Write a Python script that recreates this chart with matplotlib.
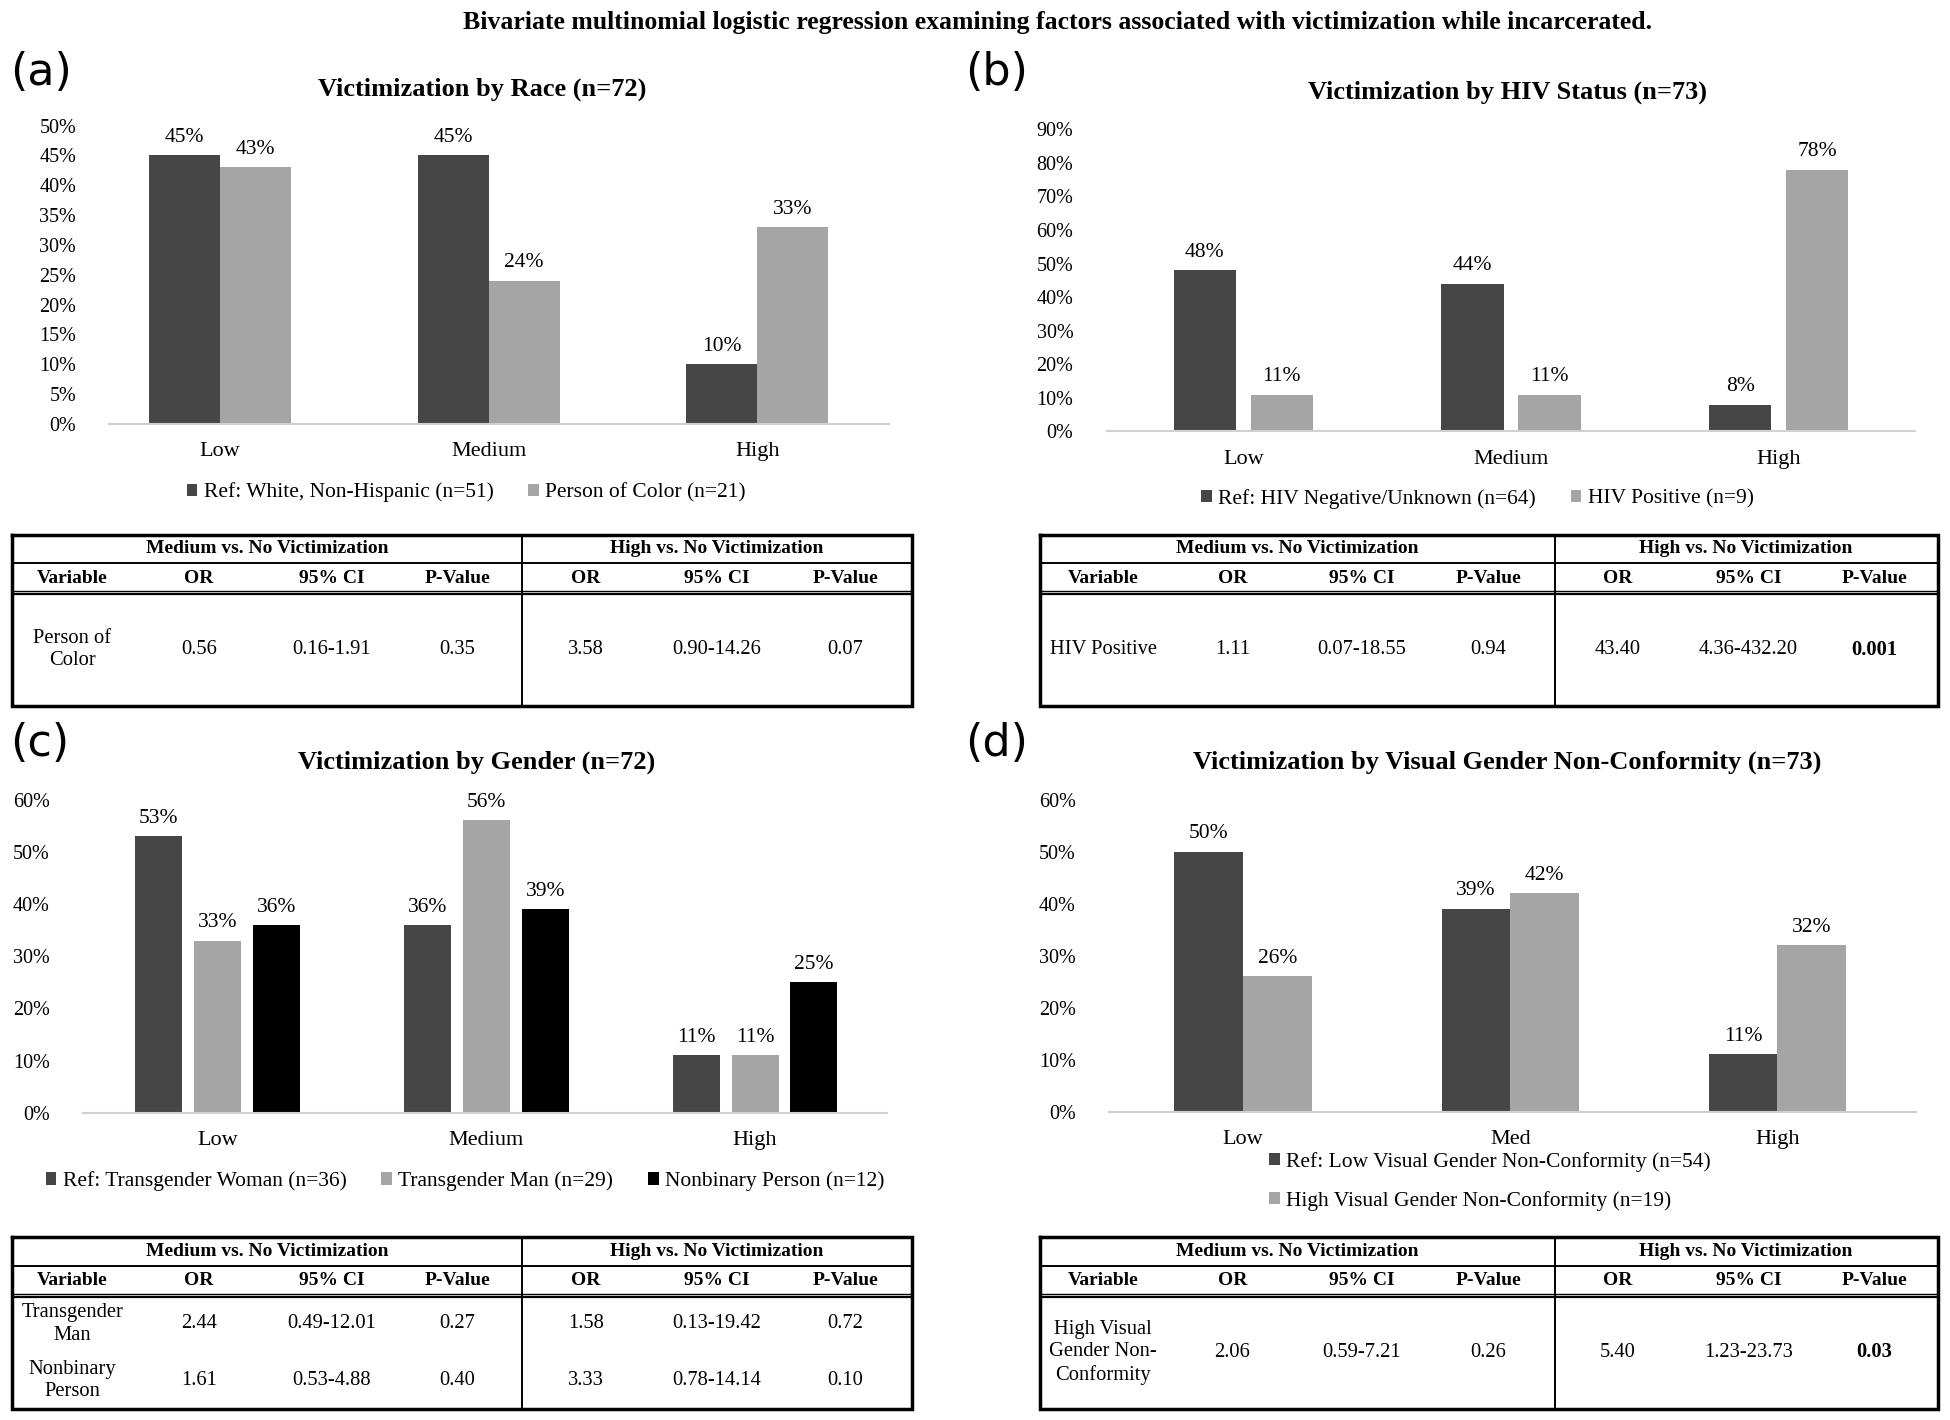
import numpy as np
import matplotlib.pyplot as plt
from matplotlib.ticker import MultipleLocator, PercentFormatter

plt.rcParams['font.family'] = ['Liberation Serif', 'DejaVu Serif']

# layout was measured on a 1568 px wide preview
PW, PH = 1568.0, 1142.0

levels = ['Low', 'Medium', 'High']
levels_d = ['Low', 'Med', 'High']

race_groups = ['Ref: White, Non-Hispanic (n=51)', 'Person of Color (n=21)']
race_vals = [[45, 45, 10], [43, 24, 33]]

hiv_groups = ['Ref: HIV Negative/Unknown (n=64)', 'HIV Positive (n=9)']
hiv_vals = [[48, 44, 8], [11, 11, 78]]

gender_groups = ['Ref: Transgender Woman (n=36)', 'Transgender Man (n=29)',
                 'Nonbinary Person (n=12)']
gender_vals = [[53, 36, 11], [33, 56, 11], [36, 39, 25]]

vgnc_groups = ['Ref: Low Visual Gender Non-Conformity (n=54)',
               'High Visual Gender Non-Conformity (n=19)']
vgnc_vals = [[50, 39, 11], [26, 42, 32]]

tab_top = ['Medium vs. No Victimization', 'High vs. No Victimization']
tab_head = ['Variable', 'OR', '95% CI', 'P-Value', 'OR', '95% CI', 'P-Value']
race_rows = [['Person of\nColor', '0.56', '0.16-1.91', '0.35', '3.58', '0.90-14.26', '0.07']]
hiv_rows = [['HIV Positive', '1.11', '0.07-18.55', '0.94', '43.40', '4.36-432.20', '0.001']]
gender_rows = [['Transgender\nMan', '2.44', '0.49-12.01', '0.27', '1.58', '0.13-19.42', '0.72'],
               ['Nonbinary\nPerson', '1.61', '0.53-4.88', '0.40', '3.33', '0.78-14.14', '0.10']]
vgnc_rows = [['High Visual\nGender Non-\nConformity', '2.06', '0.59-7.21', '0.26',
              '5.40', '1.23-23.73', '0.03']]

DARK = '#464646'
LIGHT = '#a5a5a5'
BLACK = '#000000'

fig = plt.figure(figsize=(19.5, 14.2), dpi=100)


def rect(l, t, r, b):
    return [l / PW, 1 - b / PH, (r - l) / PW, (b - t) / PH]


def fx(x):
    return x / PW


def fy(y):
    return 1 - y / PH


def bar_panel(box, cats, groups, vals, colors, width, step, ymax, ystep,
              title, tpos, leg_pos, ncol, xlim):
    ax = fig.add_axes(rect(*box))
    x = np.arange(len(cats))
    n = len(groups)
    for i in range(n):
        off = (i - (n - 1) / 2) * step
        v = np.array(vals[i]) / 100
        ax.bar(x + off, v, width, color=colors[i], label=groups[i])
        for xx, vv in zip(x + off, vals[i]):
            ax.annotate(f'{vv}%', (xx, vv / 100), xytext=(0, 6),
                        textcoords='offset points', ha='center', va='bottom',
                        fontsize=15.5, annotation_clip=False)
    ax.set_xlim(*xlim)
    ax.set_ylim(0, ymax)
    ax.yaxis.set_major_locator(MultipleLocator(ystep))
    ax.yaxis.set_major_formatter(PercentFormatter(1, decimals=0))
    ax.set_xticks(x)
    ax.set_xticklabels(cats, fontsize=16)
    for s in ['top', 'right', 'left']:
        ax.spines[s].set_visible(False)
    ax.spines['bottom'].set_color('#d0d0d0')
    ax.spines['bottom'].set_linewidth(1.5)
    ax.tick_params(axis='y', length=0, labelsize=14.5, pad=24)
    ax.tick_params(axis='x', length=0, pad=13)
    fig.text(fx(tpos[0]), fy(tpos[1]), title, ha='center', va='center',
             fontsize=19, fontweight='bold')
    ax.legend(loc='center', bbox_to_anchor=(fx(leg_pos[0]), fy(leg_pos[1])),
              bbox_transform=fig.transFigure, ncol=ncol, frameon=False,
              fontsize=15.5, handlelength=0.5, handleheight=0.5,
              handletextpad=0.3, columnspacing=1.6, labelspacing=0.9)
    return ax


def table_panel(box, divider, col_x, rows):
    l, t, r, b = box
    ax = fig.add_axes(rect(l, t, r, b))
    ax.set_xlim(l, r)
    ax.set_ylim(b, t)
    ax.axis('off')
    h1, h2 = t + 23, t + 47
    # outer frame
    ax.plot([l, r, r, l, l], [t, t, b, b, t], color='black', lw=2.5,
            solid_joinstyle='miter', clip_on=False)
    ax.plot([l, r], [h1, h1], color='black', lw=1.4)
    ax.plot([l, r], [h2 - 1.5, h2 - 1.5], color='black', lw=1.0)
    ax.plot([l, r], [h2 + 1.0, h2 + 1.0], color='black', lw=1.6)
    ax.plot([divider, divider], [t, b], color='black', lw=1.4)
    ax.text((l + divider) / 2, (t + h1) / 2, tab_top[0], ha='center',
            va='center', fontsize=14, fontweight='bold')
    ax.text((divider + r) / 2, (t + h1) / 2, tab_top[1], ha='center',
            va='center', fontsize=14, fontweight='bold')
    for cx, lab in zip(col_x, tab_head):
        ax.text(cx, (h1 + h2) / 2, lab, ha='center', va='center',
                fontsize=14, fontweight='bold')
    rh = (b - h2) / len(rows)
    for k, row in enumerate(rows):
        cy = h2 + rh * (k + 0.5)
        for j, (cx, val) in enumerate(zip(col_x, row)):
            bold = j in (3, 6) and float(val) < 0.05
            ax.text(cx, cy, val, ha='center', va='center', fontsize=14.8,
                    fontweight='bold' if bold else 'normal', linespacing=1.25)


# main title and panel letters
fig.text(fx(850), fy(18), 'Bivariate multinomial logistic regression examining factors '
         'associated with victimization while incarcerated.', ha='center',
         va='center', fontsize=18.5, fontweight='bold')
for lab, (px, py) in zip(['(a)', '(b)', '(c)', '(d)'],
                         [(8, 58), (776, 58), (8, 598), (776, 598)]):
    fig.text(fx(px), fy(py), lab, ha='left', va='center', fontsize=32,
             family='DejaVu Sans')

# (a) race
bar_panel((88, 101, 715, 341), levels, race_groups, race_vals, [DARK, LIGHT],
          0.264, 0.264, 0.5, 0.05, 'Victimization by Race (n=72)', (388, 72),
          (375, 396), 2, (-0.41, 2.49))
table_panel((10, 430, 733, 568), 420, [58, 160, 267, 368, 471, 576, 680], race_rows)

# (b) HIV status
bar_panel((890, 104, 1540, 347), levels, hiv_groups, hiv_vals, [DARK, LIGHT],
          0.233, 0.288, 0.9, 0.1, 'Victimization by HIV Status (n=73)', (1212, 74),
          (1188, 401), 2, (-0.51, 2.51))
table_panel((836, 430, 1558, 568), 1250, [887, 991, 1095, 1197, 1301, 1406, 1507], hiv_rows)

# (c) gender
bar_panel((67, 643, 713, 895), levels, gender_groups, gender_vals,
          [DARK, LIGHT, BLACK], 0.175, 0.219, 0.6, 0.1,
          'Victimization by Gender (n=72)', (383, 613), (374, 950), 3, (-0.5, 2.49))
table_panel((10, 995, 733, 1133), 420, [58, 160, 267, 368, 471, 576, 680], gender_rows)

# (d) visual gender non-conformity
bar_panel((892, 643, 1541, 894), levels_d, vgnc_groups, vgnc_vals, [DARK, LIGHT],
          0.257, 0.257, 0.6, 0.1,
          'Victimization by Visual Gender Non-Conformity (n=73)', (1212, 613),
          (1198, 950), 1, (-0.5, 2.52))
table_panel((836, 995, 1558, 1133), 1250, [887, 991, 1095, 1197, 1301, 1406, 1507], vgnc_rows)

plt.savefig('out.png', dpi=100)
